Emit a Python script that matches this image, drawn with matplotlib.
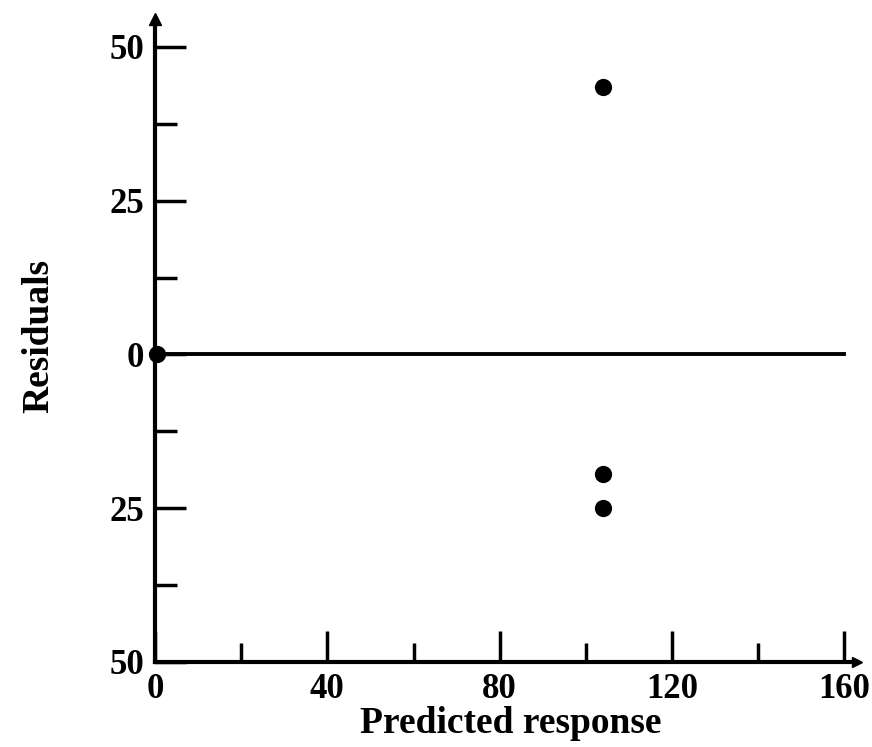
import matplotlib
matplotlib.use("Agg")
from matplotlib import pyplot as plt
import numpy as np

# data
predicted = [0.5, 104, 104, 104]
residuals = [0, 43.5, -19.5, -25]

ytick_vals = [50, 25, 0, -25, -50]
ytick_labels = ["50", "25", "0", "25", "50"]   # minus signs are missing in the original
xtick_vals = [0, 40, 80, 120, 160]
xtick_labels = ["0", "40", "80", "120", "160"]

plt.rcParams['font.family'] = ['Liberation Serif', 'DejaVu Serif']
plt.rcParams['font.weight'] = 'bold'

fig = plt.figure(figsize=(8.72, 7.47), dpi=100)
ax = fig.add_axes([155 / 872, 85 / 747, (866 - 155) / 872, (737 - 85) / 747])
ax.set_xlim(0, 165)
ax.set_ylim(-50, 56)

for s in ['top', 'right']:
    ax.spines[s].set_visible(False)
ax.spines['left'].set_linewidth(3)
ax.spines['bottom'].set_linewidth(3)
ax.spines['left'].set_bounds(-50, 54)
ax.spines['bottom'].set_bounds(0, 163)

# little arrow heads at the axis ends
ax.plot([0], [54.5], marker='^', color='black', markersize=9, clip_on=False, zorder=5)
ax.plot([163], [-50], marker='>', color='black', markersize=7, clip_on=False, zorder=5)

# zero line
ax.plot([0, 160], [0, 0], color='black', linewidth=2.8)

ax.scatter(predicted, residuals, s=130, color='black', zorder=4, clip_on=False)

ax.set_yticks(ytick_vals)
ax.set_yticklabels(ytick_labels)
ax.set_yticks([37.5, 12.5, -12.5, -37.5], minor=True)
ax.set_xticks(xtick_vals)
ax.set_xticklabels(xtick_labels)
ax.set_xticks([20, 60, 100, 140], minor=True)

ax.tick_params(axis='y', which='major', direction='in', length=22, width=2.5, pad=8, labelsize=25)
ax.tick_params(axis='y', which='minor', direction='in', length=16, width=2.5)
ax.tick_params(axis='x', which='major', direction='in', length=22, width=2.5, pad=8, labelsize=25)
ax.tick_params(axis='x', which='minor', direction='in', length=14, width=2.5)

ax.set_xlabel('Predicted response', fontsize=27, fontweight='bold', labelpad=0)
ax.set_ylabel('Residuals', fontsize=27, fontweight='bold', labelpad=38)

fig.savefig('out.png', dpi=100)
